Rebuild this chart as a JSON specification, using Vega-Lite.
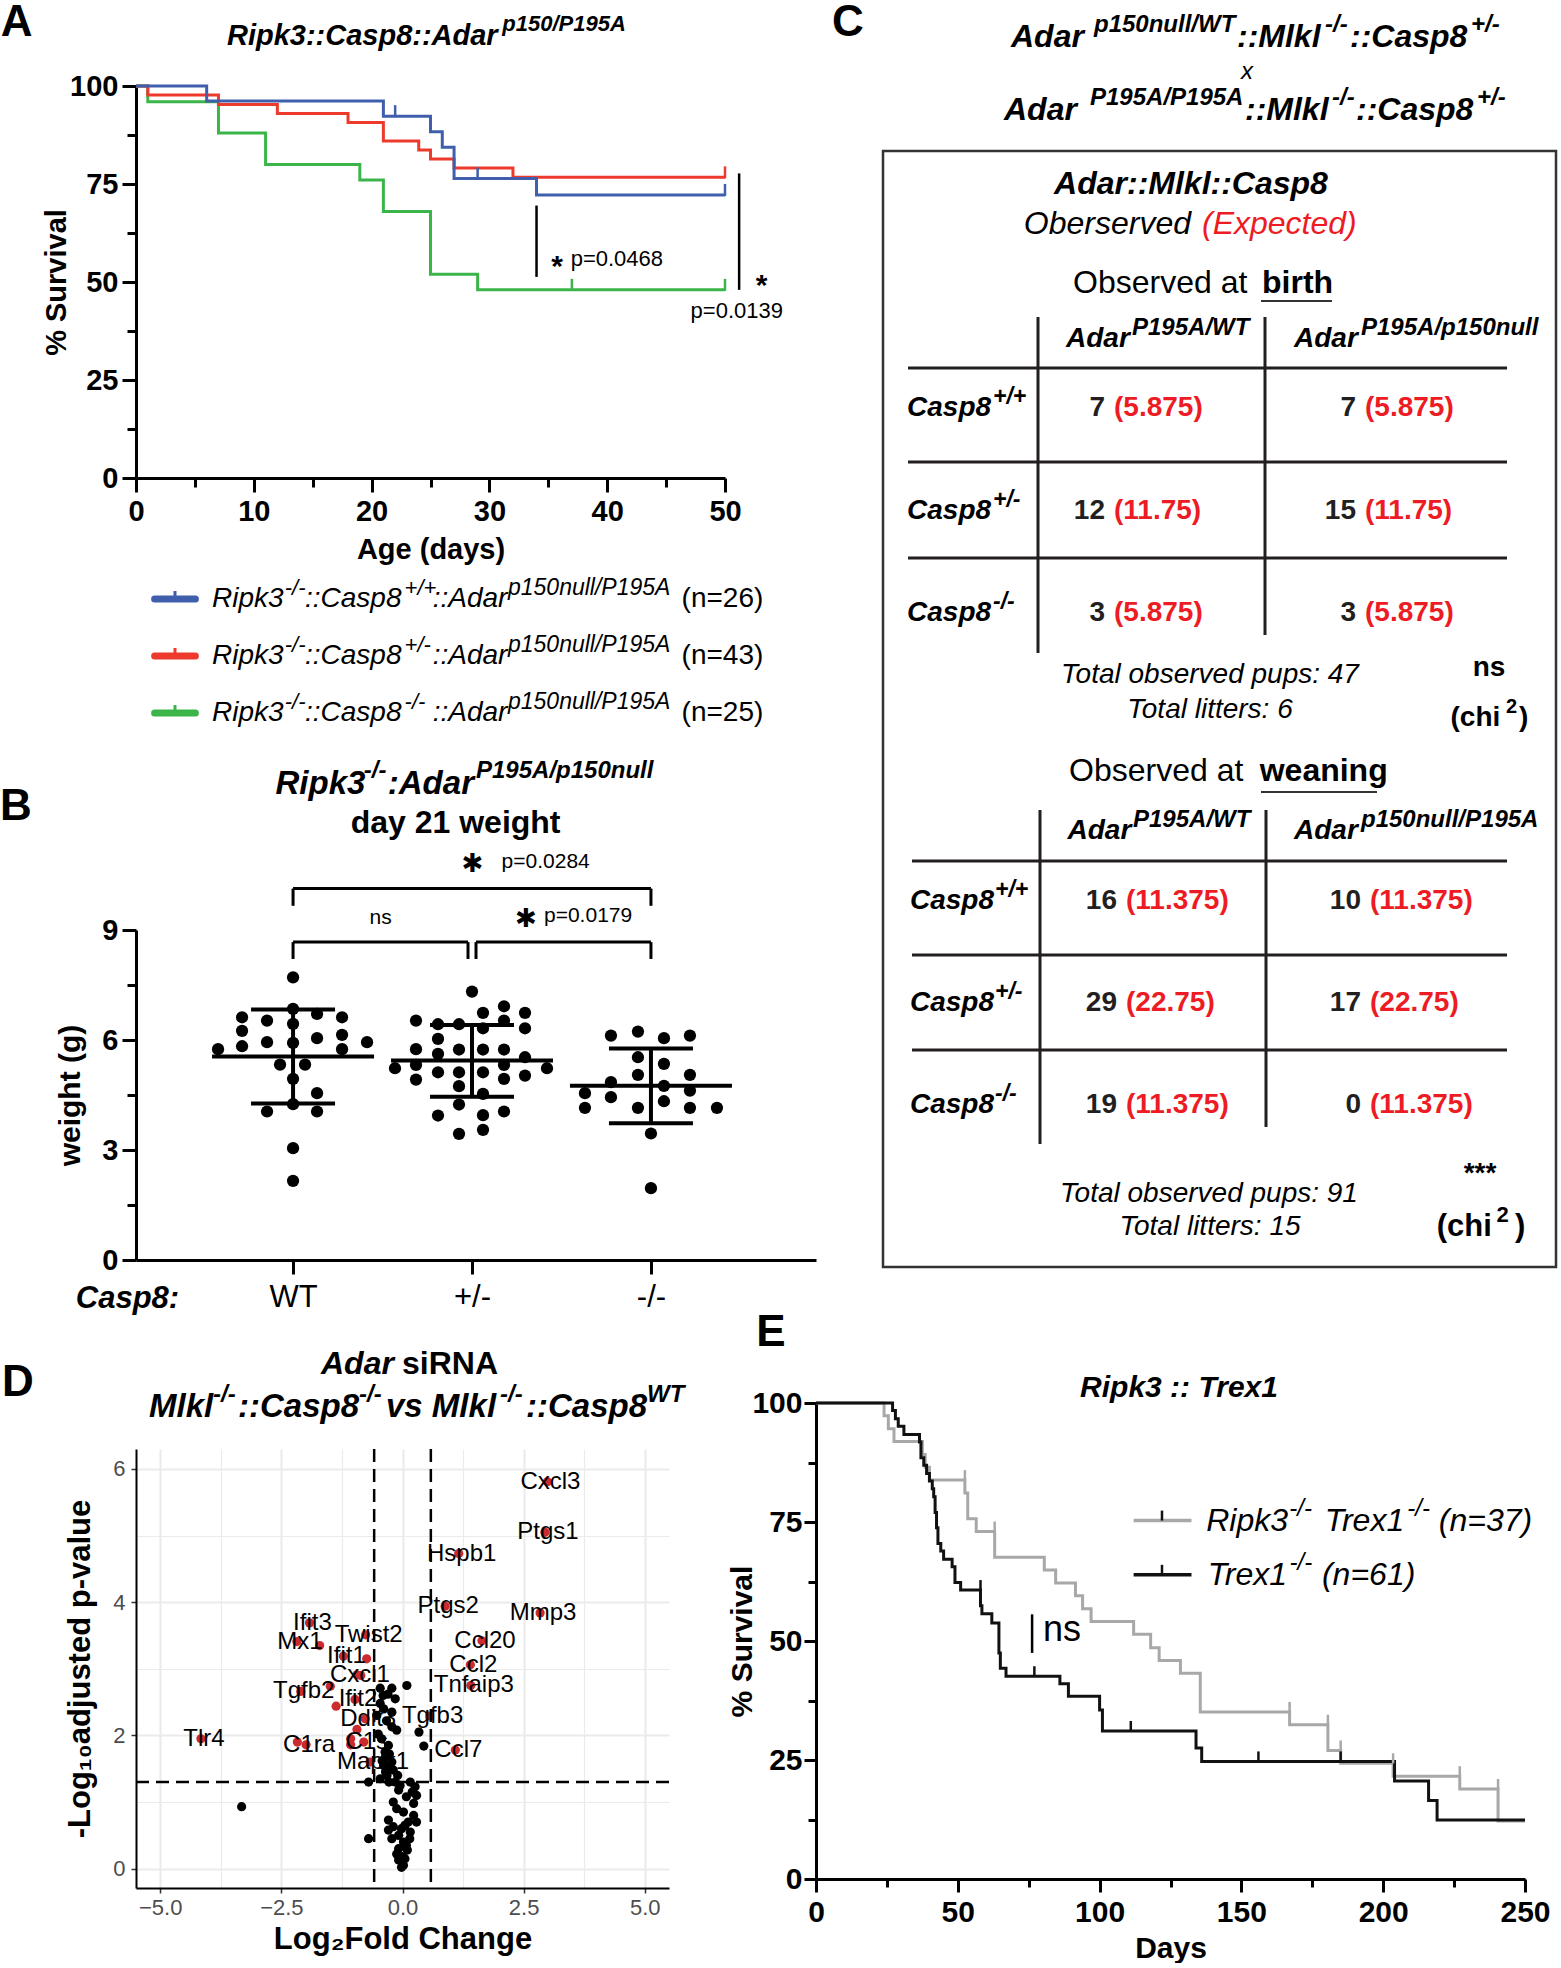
{
"$schema":"https://vega.github.io/schema/vega-lite/v6.json",
"padding":0,
"spacing":-3,
"resolve":{"scale":{"color":"independent"}},
"config":{
 "font":"Liberation Sans",
 "view":{"stroke":null},
 "axis":{"grid":false,"domainColor":"#000","tickColor":"#000","labelColor":"#000","titleColor":"#000","labelFont":"Liberation Sans","titleFont":"Liberation Sans","labelFlush":false,"labelOverlap":false},
 "text":{"font":"Liberation Sans","color":"#000"},
 "locale":{"number":{"decimal":".","thousands":",","grouping":[3],"currency":["(",")"]}}
},
"datasets":{
 "volcano":[
  {"lfc":2.99,"p":5.81,"gene":"Cxcl3","sig":"yes"},{"lfc":2.94,"p":5.05,"gene":"Ptgs1","sig":"yes"},{"lfc":1.16,"p":4.73,"gene":"Hspb1","sig":"yes"},{"lfc":0.88,"p":3.94,"gene":"Ptgs2","sig":"yes"},{"lfc":2.84,"p":3.84,"gene":"Mmp3","sig":"yes"},{"lfc":1.64,"p":3.42,"gene":"Ccl20","sig":"yes"},{"lfc":1.40,"p":3.06,"gene":"Ccl2","sig":"yes"},{"lfc":1.41,"p":2.75,"gene":"Tnfaip3","sig":"yes"},{"lfc":0.56,"p":2.29,"gene":"Tgfb3","sig":"yes"},{"lfc":1.09,"p":1.78,"gene":"Ccl7","sig":"yes"},
  {"lfc":-1.92,"p":3.69,"gene":"Ifit3","sig":"yes"},{"lfc":-2.18,"p":3.41,"gene":"Mx1","sig":"yes"},{"lfc":-0.76,"p":3.51,"gene":"Twist2","sig":"yes"},{"lfc":-1.22,"p":3.19,"gene":"Ifit1","sig":"yes"},{"lfc":-0.94,"p":2.91,"gene":"Cxcl1","sig":"yes"},{"lfc":-2.10,"p":2.66,"gene":"Tgfb2","sig":"yes"},{"lfc":-0.98,"p":2.54,"gene":"Ifit2","sig":"yes"},{"lfc":-0.77,"p":2.25,"gene":"Ddit3","sig":"yes"},{"lfc":-4.16,"p":1.95,"gene":"Tlr4","sig":"yes"},{"lfc":-1.99,"p":1.86,"gene":"C1ra","sig":"yes"},{"lfc":-0.80,"p":1.90,"gene":"C1s","sig":"yes"},{"lfc":-0.67,"p":1.60,"gene":"Mapk1","sig":"yes"},
  {"lfc":-1.71,"p":3.35,"gene":"","sig":"yes"},{"lfc":-0.74,"p":3.15,"gene":"","sig":"yes"},{"lfc":-0.86,"p":2.90,"gene":"","sig":"yes"},{"lfc":-1.49,"p":2.74,"gene":"","sig":"yes"},{"lfc":-1.37,"p":2.44,"gene":"","sig":"yes"},{"lfc":-0.94,"p":2.09,"gene":"","sig":"yes"},{"lfc":-1.07,"p":1.95,"gene":"","sig":"yes"},{"lfc":-2.17,"p":1.90,"gene":"","sig":"yes"},{"lfc":-1.07,"p":1.86,"gene":"","sig":"yes"},
  {"lfc":0.09,"p":2.75,"gene":"","sig":"no"},{"lfc":-0.46,"p":2.71,"gene":"","sig":"no"},{"lfc":-0.22,"p":2.71,"gene":"","sig":"no"},{"lfc":-0.15,"p":2.55,"gene":"","sig":"no"},{"lfc":-0.46,"p":2.48,"gene":"","sig":"no"},{"lfc":-0.39,"p":2.40,"gene":"","sig":"no"},{"lfc":-0.22,"p":2.35,"gene":"","sig":"no"},{"lfc":-0.53,"p":2.30,"gene":"","sig":"no"},{"lfc":-0.22,"p":2.13,"gene":"","sig":"no"},{"lfc":-0.12,"p":2.08,"gene":"","sig":"no"},{"lfc":0.34,"p":2.05,"gene":"","sig":"no"},{"lfc":-0.43,"p":1.95,"gene":"","sig":"no"},{"lfc":-0.29,"p":1.85,"gene":"","sig":"no"},{"lfc":0.44,"p":1.84,"gene":"","sig":"no"},{"lfc":-0.36,"p":1.75,"gene":"","sig":"no"},{"lfc":-0.22,"p":1.60,"gene":"","sig":"no"},{"lfc":-0.39,"p":1.55,"gene":"","sig":"no"},{"lfc":-0.19,"p":1.48,"gene":"","sig":"no"},{"lfc":-0.32,"p":1.40,"gene":"","sig":"no"},{"lfc":-0.46,"p":1.35,"gene":"","sig":"no"},{"lfc":-0.70,"p":1.30,"gene":"","sig":"no"},{"lfc":-0.15,"p":1.30,"gene":"","sig":"no"},{"lfc":0.16,"p":1.30,"gene":"","sig":"no"},{"lfc":0.26,"p":1.23,"gene":"","sig":"no"},{"lfc":-0.08,"p":1.18,"gene":"","sig":"no"},{"lfc":0.29,"p":1.10,"gene":"","sig":"no"},{"lfc":-0.19,"p":1.00,"gene":"","sig":"no"},{"lfc":0.23,"p":0.98,"gene":"","sig":"no"},{"lfc":0.02,"p":0.85,"gene":"","sig":"no"},{"lfc":0.23,"p":0.80,"gene":"","sig":"no"},{"lfc":-0.29,"p":0.73,"gene":"","sig":"no"},{"lfc":-0.19,"p":0.63,"gene":"","sig":"no"},{"lfc":0.05,"p":0.65,"gene":"","sig":"no"},{"lfc":0.29,"p":0.70,"gene":"","sig":"no"},{"lfc":0.16,"p":0.55,"gene":"","sig":"no"},{"lfc":-0.70,"p":0.45,"gene":"","sig":"no"},{"lfc":-0.08,"p":0.50,"gene":"","sig":"no"},{"lfc":-0.22,"p":0.45,"gene":"","sig":"no"},{"lfc":0.02,"p":0.40,"gene":"","sig":"no"},{"lfc":-0.08,"p":0.30,"gene":"","sig":"no"},{"lfc":0.10,"p":0.28,"gene":"","sig":"no"},{"lfc":-0.01,"p":0.18,"gene":"","sig":"no"},{"lfc":0.02,"p":0.05,"gene":"","sig":"no"},{"lfc":-0.08,"p":0.13,"gene":"","sig":"no"},{"lfc":-0.29,"p":0.58,"gene":"","sig":"no"},{"lfc":0.15,"p":0.45,"gene":"","sig":"no"},{"lfc":-3.32,"p":0.93,"gene":"","sig":"no"},{"lfc":-0.30,"p":2.62,"gene":"","sig":"no"},{"lfc":-0.40,"p":2.60,"gene":"","sig":"no"},{"lfc":-0.35,"p":1.68,"gene":"","sig":"no"},{"lfc":-0.27,"p":1.72,"gene":"","sig":"no"},{"lfc":-0.42,"p":1.62,"gene":"","sig":"no"},{"lfc":-0.25,"p":1.52,"gene":"","sig":"no"},{"lfc":-0.50,"p":2.02,"gene":"","sig":"no"},{"lfc":-0.33,"p":2.22,"gene":"","sig":"no"},{"lfc":-0.10,"p":1.40,"gene":"","sig":"no"},{"lfc":-0.05,"p":1.25,"gene":"","sig":"no"},{"lfc":0.08,"p":1.08,"gene":"","sig":"no"},{"lfc":0.20,"p":1.15,"gene":"","sig":"no"},{"lfc":-0.12,"p":0.90,"gene":"","sig":"no"},{"lfc":0.12,"p":0.70,"gene":"","sig":"no"},{"lfc":-0.02,"p":0.60,"gene":"","sig":"no"},{"lfc":0.08,"p":0.35,"gene":"","sig":"no"},{"lfc":-0.12,"p":0.22,"gene":"","sig":"no"},{"lfc":0.05,"p":0.15,"gene":"","sig":"no"},{"lfc":-0.02,"p":0.02,"gene":"","sig":"no"},{"lfc":-0.35,"p":1.45,"gene":"","sig":"no"},{"lfc":-0.28,"p":1.30,"gene":"","sig":"no"}
 ]
},
"vconcat":[
{"hconcat":[
 {"vconcat":[
  {"width":589,"height":392,
   "layer":[
    {"data":{"values":[
      {"g":"ko","t":0,"s":100},{"g":"ko","t":1,"s":96},{"g":"ko","t":7,"s":88},{"g":"ko","t":11,"s":80},{"g":"ko","t":19,"s":76},{"g":"ko","t":21,"s":68},{"g":"ko","t":25,"s":52},{"g":"ko","t":29,"s":48},{"g":"ko","t":50,"s":48},
      {"g":"het","t":0,"s":100},{"g":"het","t":1,"s":97.7},{"g":"het","t":7,"s":95.3},{"g":"het","t":12,"s":93.0},{"g":"het","t":18,"s":90.7},{"g":"het","t":21,"s":86.0},{"g":"het","t":24,"s":83.7},{"g":"het","t":25,"s":81.4},{"g":"het","t":27,"s":79.1},{"g":"het","t":32,"s":76.7},{"g":"het","t":50,"s":76.7},
      {"g":"wt","t":0,"s":100},{"g":"wt","t":6,"s":96.2},{"g":"wt","t":21,"s":92.3},{"g":"wt","t":25,"s":88.3},{"g":"wt","t":26,"s":84.4},{"g":"wt","t":27,"s":76.4},{"g":"wt","t":34,"s":72.2},{"g":"wt","t":50,"s":72.2}]},
     "mark":{"type":"line","interpolate":"step-after","strokeWidth":3},
     "encoding":{
      "x":{"field":"t","type":"quantitative","scale":{"domain":[0,50],"nice":false,"zero":false},"axis":{"values":[0,5,10,15,20,25,30,35,40,45,50],"labelExpr":"datum.value % 10 === 0 ? datum.label : ''","tickSize":{"condition":{"test":"datum.value % 10 !== 0","value":9},"value":14},"tickWidth":3,"domainWidth":3,"labelFontSize":29,"labelFontWeight":"bold","labelPadding":5,"title":"Age (days)","titleFontSize":29,"titleFontWeight":"bold","titlePadding":9}},
      "y":{"field":"s","type":"quantitative","scale":{"domain":[0,100],"nice":false,"zero":false},"axis":{"values":[0,12.5,25,37.5,50,62.5,75,87.5,100],"labelExpr":"datum.value % 25 === 0 ? datum.label : ''","tickSize":{"condition":{"test":"datum.value % 25 !== 0","value":9},"value":14},"tickWidth":3,"domainWidth":3,"labelFontSize":29,"labelFontWeight":"bold","labelPadding":4,"title":"% Survival","titleFontSize":29,"titleFontWeight":"bold","titlePadding":-2}},
      "color":{"field":"g","type":"nominal","scale":{"domain":["ko","het","wt"],"range":["#3BB54A","#EE3A2C","#3F5FAD"]},"legend":null}}},
    {"data":{"values":[{"g":"wt","t":22,"s":92.3},{"g":"wt","t":29,"s":76.4},{"g":"wt","t":50,"s":72.2},{"g":"het","t":50,"s":76.7},{"g":"ko","t":37,"s":48},{"g":"ko","t":50,"s":48}]},
     "mark":{"type":"tick","orient":"vertical","size":12,"thickness":2.5,"yOffset":-5,"opacity":1},
     "encoding":{"x":{"field":"t","type":"quantitative"},"y":{"field":"s","type":"quantitative"},"color":{"field":"g","type":"nominal","legend":null}}},
    {"data":{"values":[{}]},"mark":{"type":"rule","strokeWidth":2.5,"color":"#000"},"encoding":{"x":{"datum":34},"y":{"datum":51.3},"y2":{"datum":69.5}}},
    {"data":{"values":[{}]},"mark":{"type":"rule","strokeWidth":2.5,"color":"#000"},"encoding":{"x":{"datum":51.2},"y":{"datum":48},"y2":{"datum":77.7}}},
    {"data":{"values":[{"t":"*"}]},"mark":{"type":"text","align":"center","baseline":"middle","fontSize":30,"fontWeight":"bold"},"encoding":{"x":{"datum":35.75},"y":{"datum":53.9},"text":{"field":"t"}}},
    {"data":{"values":[{"t":"p=0.0468"}]},"mark":{"type":"text","align":"left","baseline":"middle","fontSize":22},"encoding":{"x":{"datum":36.9},"y":{"datum":55.9},"text":{"field":"t"}}},
    {"data":{"values":[{"t":"*"}]},"mark":{"type":"text","align":"center","baseline":"middle","fontSize":30,"fontWeight":"bold"},"encoding":{"x":{"datum":53.1},"y":{"datum":49.1},"text":{"field":"t"}}},
    {"data":{"values":[{"t":"p=0.0139"}]},"mark":{"type":"text","align":"center","baseline":"middle","fontSize":22},"encoding":{"x":{"datum":51},"y":{"datum":42.6},"text":{"field":"t"}}},
    {"data":{"values":[{"t":"A"}]},"mark":{"type":"text","align":"center","baseline":"middle","fontSize":44,"fontWeight":"bold"},"encoding":{"x":{"datum":-10.14},"y":{"datum":116.1},"text":{"field":"t"}}},
    {"data":{"values":[{"t":"Ripk3::Casp8::Adar"}]},"mark":{"type":"text","align":"left","baseline":"middle","fontSize":29,"fontWeight":"bold","fontStyle":"italic"},"encoding":{"x":{"datum":7.72},"y":{"datum":112.8},"text":{"field":"t"}}},
    {"data":{"values":[{"t":"p150/P195A"}]},"mark":{"type":"text","align":"left","baseline":"middle","fontSize":22,"fontWeight":"bold","fontStyle":"italic","dy":-12},"encoding":{"x":{"datum":31.1},"y":{"datum":112.8},"text":{"field":"t"}}}
   ]},
  {"width":589,"height":195,
   "data":{"values":[{"g":"wt","sup1":"+/+","n":"(n=26)"},{"g":"het","sup1":"+/-","n":"(n=43)"},{"g":"ko","sup1":"-/-","n":"(n=25)"}]},
   "encoding":{"y":{"field":"g","type":"nominal","scale":{"type":"point","domain":["wt","het","ko"],"padding":0.71,"align":0.432},"axis":null}},
   "layer":[
    {"mark":{"type":"rule","strokeWidth":7,"strokeCap":"round"},"encoding":{"x":{"datum":1.86,"scale":{"domain":[0,58.9],"nice":false,"zero":false},"axis":null},"x2":{"datum":5.94},"color":{"field":"g","type":"nominal","scale":{"domain":["ko","het","wt"],"range":["#3BB54A","#EE3A2C","#3F5FAD"]},"legend":null}}},
    {"mark":{"type":"tick","orient":"vertical","size":6,"thickness":3,"yOffset":-5,"opacity":1},"encoding":{"x":{"datum":3.9,"axis":null},"color":{"field":"g","type":"nominal","legend":null}}},
    {"mark":{"type":"text","align":"left","baseline":"middle","fontSize":28,"fontStyle":"italic"},"encoding":{"x":{"datum":7.6,"axis":null},"text":{"value":"Ripk3"}}},
    {"mark":{"type":"text","align":"left","baseline":"middle","fontSize":22,"fontStyle":"italic","dy":-11},"encoding":{"x":{"datum":14.87,"axis":null},"text":{"value":"-/-"}}},
    {"mark":{"type":"text","align":"left","baseline":"middle","fontSize":28,"fontStyle":"italic"},"encoding":{"x":{"datum":16.9,"axis":null},"text":{"value":"::Casp8"}}},
    {"mark":{"type":"text","align":"left","baseline":"middle","fontSize":22,"fontStyle":"italic","dy":-11},"encoding":{"x":{"datum":26.86,"axis":null},"text":{"field":"sup1"}}},
    {"mark":{"type":"text","align":"left","baseline":"middle","fontSize":28,"fontStyle":"italic"},"encoding":{"x":{"datum":29.67,"axis":null},"text":{"value":"::Adar"}}},
    {"mark":{"type":"text","align":"left","baseline":"middle","fontSize":23,"fontStyle":"italic","dy":-11},"encoding":{"x":{"datum":37.2,"axis":null},"text":{"value":"p150null/P195A"}}},
    {"mark":{"type":"text","align":"left","baseline":"middle","fontSize":28},"encoding":{"x":{"datum":54.56,"axis":null},"text":{"field":"n"}}}
   ]},
  {"width":680,"height":330,
   "layer":[
    {"layer":[
     {"data":{"values":[
       {"casp8":"WT","w":7.71,"off":0},{"casp8":"WT","w":6.85,"off":0},{"casp8":"WT","w":6.62,"off":-51},{"casp8":"WT","w":6.53,"off":-26},{"casp8":"WT","w":6.71,"off":24},{"casp8":"WT","w":6.62,"off":49},{"casp8":"WT","w":6.44,"off":0},{"casp8":"WT","w":6.25,"off":-51},{"casp8":"WT","w":6.14,"off":49},{"casp8":"WT","w":6.05,"off":24},{"casp8":"WT","w":5.94,"off":-26},{"casp8":"WT","w":5.92,"off":0},{"casp8":"WT","w":5.83,"off":-51},{"casp8":"WT","w":5.94,"off":74},{"casp8":"WT","w":5.75,"off":49},{"casp8":"WT","w":5.75,"off":-75},{"casp8":"WT","w":5.33,"off":-13},{"casp8":"WT","w":5.33,"off":12},{"casp8":"WT","w":4.94,"off":0},{"casp8":"WT","w":4.55,"off":24},{"casp8":"WT","w":4.25,"off":0},{"casp8":"WT","w":4.05,"off":-26},{"casp8":"WT","w":4.05,"off":24},{"casp8":"WT","w":3.05,"off":0},{"casp8":"WT","w":2.16,"off":0},
       {"casp8":"+/-","w":7.32,"off":0},{"casp8":"+/-","w":6.74,"off":11},{"casp8":"+/-","w":6.92,"off":32},{"casp8":"+/-","w":6.74,"off":53},{"casp8":"+/-","w":6.53,"off":-56},{"casp8":"+/-","w":6.43,"off":-34},{"casp8":"+/-","w":6.43,"off":-13},{"casp8":"+/-","w":6.32,"off":11},{"casp8":"+/-","w":6.53,"off":32},{"casp8":"+/-","w":6.32,"off":53},{"casp8":"+/-","w":6.03,"off":-34},{"casp8":"+/-","w":5.75,"off":-56},{"casp8":"+/-","w":5.62,"off":-34},{"casp8":"+/-","w":5.74,"off":-13},{"casp8":"+/-","w":5.74,"off":11},{"casp8":"+/-","w":5.74,"off":32},{"casp8":"+/-","w":5.53,"off":53},{"casp8":"+/-","w":5.23,"off":-77},{"casp8":"+/-","w":5.32,"off":-56},{"casp8":"+/-","w":5.32,"off":32},{"casp8":"+/-","w":5.23,"off":75},{"casp8":"+/-","w":5.12,"off":-34},{"casp8":"+/-","w":5.12,"off":-13},{"casp8":"+/-","w":5.12,"off":11},{"casp8":"+/-","w":4.92,"off":-56},{"casp8":"+/-","w":4.94,"off":32},{"casp8":"+/-","w":5.03,"off":53},{"casp8":"+/-","w":4.74,"off":-13},{"casp8":"+/-","w":4.53,"off":11},{"casp8":"+/-","w":4.24,"off":-13},{"casp8":"+/-","w":3.94,"off":-34},{"casp8":"+/-","w":3.95,"off":11},{"casp8":"+/-","w":4.05,"off":32},{"casp8":"+/-","w":3.44,"off":-13},{"casp8":"+/-","w":3.55,"off":11},
       {"casp8":"-/-","w":6.12,"off":-40},{"casp8":"-/-","w":6.23,"off":-13},{"casp8":"-/-","w":6.05,"off":13},{"casp8":"-/-","w":6.12,"off":39},{"casp8":"-/-","w":5.53,"off":-13},{"casp8":"-/-","w":5.35,"off":13},{"casp8":"-/-","w":5.05,"off":-13},{"casp8":"-/-","w":5.05,"off":39},{"casp8":"-/-","w":4.85,"off":-40},{"casp8":"-/-","w":4.75,"off":13},{"casp8":"-/-","w":4.62,"off":39},{"casp8":"-/-","w":4.55,"off":-66},{"casp8":"-/-","w":4.44,"off":-40},{"casp8":"-/-","w":4.33,"off":13},{"casp8":"-/-","w":4.15,"off":-66},{"casp8":"-/-","w":4.15,"off":-13},{"casp8":"-/-","w":4.15,"off":39},{"casp8":"-/-","w":4.15,"off":66},{"casp8":"-/-","w":3.45,"off":0},{"casp8":"-/-","w":1.96,"off":0}]},
      "mark":{"type":"circle","size":150,"opacity":1,"color":"#000"},
      "encoding":{
       "x":{"field":"casp8","type":"nominal","scale":{"type":"point","domain":["WT","+/-","-/-"],"padding":0.9,"align":0.4876},"axis":{"labelAngle":0,"labelFontSize":31,"labelPadding":8,"tickSize":14,"tickWidth":3,"domainWidth":3,"title":"Casp8:","titleFontSize":31,"titleFontWeight":"bold","titleFontStyle":"italic","titleX":-9,"titleY":38,"titleAlign":"center","titleBaseline":"middle"}},
       "xOffset":{"field":"off","type":"quantitative","scale":{"domain":[-100,100],"range":[-100,100]}},
       "y":{"field":"w","type":"quantitative","scale":{"domain":[0,9],"nice":false,"zero":false},"axis":{"values":[0,1.5,3,4.5,6,7.5,9],"labelExpr":"datum.value % 3 === 0 ? datum.label : ''","tickSize":{"condition":{"test":"datum.value % 3 !== 0","value":9},"value":14},"tickWidth":3,"domainWidth":3,"labelFontSize":29,"labelFontWeight":"bold","labelPadding":4,"title":"weight (g)","titleFontSize":30,"titleFontWeight":"bold","titlePadding":16}}}},
     {"data":{"values":[{"casp8":"WT","mean":5.55,"hi":6.83,"lo":4.27},{"casp8":"+/-","mean":5.44,"hi":6.41,"lo":4.45},{"casp8":"-/-","mean":4.75,"hi":5.77,"lo":3.73}]},
      "layer":[
       {"mark":{"type":"tick","size":162,"thickness":4,"color":"#000","opacity":1},"encoding":{"x":{"field":"casp8","type":"nominal"},"y":{"field":"mean","type":"quantitative"}}},
       {"mark":{"type":"tick","size":84,"thickness":4,"color":"#000","opacity":1},"encoding":{"x":{"field":"casp8","type":"nominal"},"y":{"field":"hi","type":"quantitative"}}},
       {"mark":{"type":"tick","size":84,"thickness":4,"color":"#000","opacity":1},"encoding":{"x":{"field":"casp8","type":"nominal"},"y":{"field":"lo","type":"quantitative"}}},
       {"mark":{"type":"rule","strokeWidth":4,"color":"#000"},"encoding":{"x":{"field":"casp8","type":"nominal"},"y":{"field":"lo","type":"quantitative"},"y2":{"field":"hi"}}}
      ]},
     {"data":{"values":[{}]},"mark":{"type":"rule","strokeWidth":3,"color":"#000"},"encoding":{"x":{"datum":"WT"},"x2":{"datum":"-/-"},"y":{"datum":10.13}}},
     {"data":{"values":[{}]},"mark":{"type":"rule","strokeWidth":3,"color":"#000"},"encoding":{"x":{"datum":"WT"},"y":{"datum":9.66},"y2":{"datum":10.13}}},
     {"data":{"values":[{}]},"mark":{"type":"rule","strokeWidth":3,"color":"#000"},"encoding":{"x":{"datum":"-/-"},"y":{"datum":9.66},"y2":{"datum":10.13}}},
     {"data":{"values":[{}]},"mark":{"type":"rule","strokeWidth":3,"color":"#000","x2Offset":-4},"encoding":{"x":{"datum":"WT"},"x2":{"datum":"+/-"},"y":{"datum":8.67}}},
     {"data":{"values":[{}]},"mark":{"type":"rule","strokeWidth":3,"color":"#000"},"encoding":{"x":{"datum":"WT"},"y":{"datum":8.21},"y2":{"datum":8.67}}},
     {"data":{"values":[{}]},"mark":{"type":"rule","strokeWidth":3,"color":"#000","xOffset":-4},"encoding":{"x":{"datum":"+/-"},"y":{"datum":8.21},"y2":{"datum":8.67}}},
     {"data":{"values":[{}]},"mark":{"type":"rule","strokeWidth":3,"color":"#000","xOffset":4},"encoding":{"x":{"datum":"+/-"},"x2":{"datum":"-/-"},"y":{"datum":8.67}}},
     {"data":{"values":[{}]},"mark":{"type":"rule","strokeWidth":3,"color":"#000","xOffset":4},"encoding":{"x":{"datum":"+/-"},"y":{"datum":8.21},"y2":{"datum":8.67}}},
     {"data":{"values":[{}]},"mark":{"type":"rule","strokeWidth":3,"color":"#000"},"encoding":{"x":{"datum":"-/-"},"y":{"datum":8.21},"y2":{"datum":8.67}}}
    ]},
    {"layer":[
     {"data":{"values":[{"t":"B"}]},"mark":{"type":"text","align":"center","baseline":"middle","fontSize":44,"fontWeight":"bold"},"encoding":{"x":{"datum":-12,"scale":{"domain":[0,68],"nice":false,"zero":false},"axis":null},"y":{"datum":12.35},"text":{"field":"t"}}},
     {"data":{"values":[{"t":"Ripk3"}]},"mark":{"type":"text","align":"left","baseline":"middle","fontSize":33,"fontWeight":"bold","fontStyle":"italic"},"encoding":{"x":{"datum":13.95,"axis":null},"y":{"datum":12.97},"text":{"field":"t"}}},
     {"data":{"values":[{"t":"-/-"}]},"mark":{"type":"text","align":"left","baseline":"middle","fontSize":24,"fontWeight":"bold","fontStyle":"italic","dy":-13},"encoding":{"x":{"datum":22.78,"axis":null},"y":{"datum":12.97},"text":{"field":"t"}}},
     {"data":{"values":[{"t":":Adar"}]},"mark":{"type":"text","align":"left","baseline":"middle","fontSize":33,"fontWeight":"bold","fontStyle":"italic"},"encoding":{"x":{"datum":25.18,"axis":null},"y":{"datum":12.97},"text":{"field":"t"}}},
     {"data":{"values":[{"t":"P195A/p150null"}]},"mark":{"type":"text","align":"left","baseline":"middle","fontSize":24,"fontWeight":"bold","fontStyle":"italic","dy":-13},"encoding":{"x":{"datum":34.0,"axis":null},"y":{"datum":12.97},"text":{"field":"t"}}},
     {"data":{"values":[{"t":"day 21 weight"}]},"mark":{"type":"text","align":"center","baseline":"middle","fontSize":32,"fontWeight":"bold"},"encoding":{"x":{"datum":31.96,"axis":null},"y":{"datum":11.92},"text":{"field":"t"}}},
     {"data":{"values":[{"t":"✱"}]},"mark":{"type":"text","align":"center","baseline":"middle","fontSize":26,"font":"DejaVu Sans"},"encoding":{"x":{"datum":33.65,"axis":null},"y":{"datum":10.79},"text":{"field":"t"}}},
     {"data":{"values":[{"t":"p=0.0284"}]},"mark":{"type":"text","align":"left","baseline":"middle","fontSize":21},"encoding":{"x":{"datum":36.56,"axis":null},"y":{"datum":10.85},"text":{"field":"t"}}},
     {"data":{"values":[{"t":"ns"}]},"mark":{"type":"text","align":"center","baseline":"middle","fontSize":21},"encoding":{"x":{"datum":24.46,"axis":null},"y":{"datum":9.33},"text":{"field":"t"}}},
     {"data":{"values":[{"t":"✱"}]},"mark":{"type":"text","align":"center","baseline":"middle","fontSize":26,"font":"DejaVu Sans"},"encoding":{"x":{"datum":39.0,"axis":null},"y":{"datum":9.31},"text":{"field":"t"}}},
     {"data":{"values":[{"t":"p=0.0179"}]},"mark":{"type":"text","align":"left","baseline":"middle","fontSize":21},"encoding":{"x":{"datum":40.8,"axis":null},"y":{"datum":9.37},"text":{"field":"t"}}}
    ]}
   ],
   "resolve":{"scale":{"x":"independent"}}}
 ],"spacing":0,"resolve":{"scale":{"color":"independent"}}},
 {"width":728,"height":1185,
  "layer":[
   {"layer":[
    {"data":{"values":[{}]},"mark":{"type":"rect","filled":false,"color":"#333333","strokeWidth":2.5},"encoding":{"x":{"datum":5.4,"scale":{"domain":[0,72.8],"nice":false,"zero":false},"axis":null},"x2":{"datum":72.7},"y":{"datum":6.5,"scale":{"domain":[0,118.5],"reverse":true,"nice":false,"zero":false},"axis":null},"y2":{"datum":118.1}}},
    {"data":{"values":[{"t":"C"}]},"mark":{"type":"text","align":"center","baseline":"middle","fontSize":44,"fontWeight":"bold"},"encoding":{"x":{"datum":1.9,"axis":null},"y":{"datum":-6.3,"axis":null},"text":{"field":"t"}}},
    {"data":{"values":[{"t":"Adar"}]},"mark":{"type":"text","align":"left","baseline":"middle","fontSize":32,"fontWeight":"bold","fontStyle":"italic"},"encoding":{"x":{"datum":18.2,"axis":null},"y":{"datum":-4.9,"axis":null},"text":{"field":"t"}}},
    {"data":{"values":[{"t":"p150null/WT"}]},"mark":{"type":"text","align":"left","baseline":"middle","fontSize":24,"fontWeight":"bold","fontStyle":"italic","dy":-12},"encoding":{"x":{"datum":26.5,"axis":null},"y":{"datum":-4.9,"axis":null},"text":{"field":"t"}}},
    {"data":{"values":[{"t":"::Mlkl"}]},"mark":{"type":"text","align":"left","baseline":"middle","fontSize":32,"fontWeight":"bold","fontStyle":"italic"},"encoding":{"x":{"datum":40.8,"axis":null},"y":{"datum":-4.9,"axis":null},"text":{"field":"t"}}},
    {"data":{"values":[{"t":"-/-"}]},"mark":{"type":"text","align":"left","baseline":"middle","fontSize":24,"fontWeight":"bold","fontStyle":"italic","dy":-12},"encoding":{"x":{"datum":49.6,"axis":null},"y":{"datum":-4.9,"axis":null},"text":{"field":"t"}}},
    {"data":{"values":[{"t":"::Casp8"}]},"mark":{"type":"text","align":"left","baseline":"middle","fontSize":32,"fontWeight":"bold","fontStyle":"italic"},"encoding":{"x":{"datum":52.1,"axis":null},"y":{"datum":-4.9,"axis":null},"text":{"field":"t"}}},
    {"data":{"values":[{"t":"+/-"}]},"mark":{"type":"text","align":"left","baseline":"middle","fontSize":24,"fontWeight":"bold","fontStyle":"italic","dy":-12},"encoding":{"x":{"datum":64.2,"axis":null},"y":{"datum":-4.9,"axis":null},"text":{"field":"t"}}},
    {"data":{"values":[{"t":"x"}]},"mark":{"type":"text","align":"center","baseline":"middle","fontSize":24,"fontStyle":"italic"},"encoding":{"x":{"datum":41.8,"axis":null},"y":{"datum":-1.4,"axis":null},"text":{"field":"t"}}},
    {"data":{"values":[{"t":"Adar"}]},"mark":{"type":"text","align":"left","baseline":"middle","fontSize":32,"fontWeight":"bold","fontStyle":"italic"},"encoding":{"x":{"datum":17.5,"axis":null},"y":{"datum":2.4,"axis":null},"text":{"field":"t"}}},
    {"data":{"values":[{"t":"P195A/P195A"}]},"mark":{"type":"text","align":"left","baseline":"middle","fontSize":24,"fontWeight":"bold","fontStyle":"italic","dy":-12},"encoding":{"x":{"datum":26.1,"axis":null},"y":{"datum":2.4,"axis":null},"text":{"field":"t"}}},
    {"data":{"values":[{"t":"::Mlkl"}]},"mark":{"type":"text","align":"left","baseline":"middle","fontSize":32,"fontWeight":"bold","fontStyle":"italic"},"encoding":{"x":{"datum":41.6,"axis":null},"y":{"datum":2.4,"axis":null},"text":{"field":"t"}}},
    {"data":{"values":[{"t":"-/-"}]},"mark":{"type":"text","align":"left","baseline":"middle","fontSize":24,"fontWeight":"bold","fontStyle":"italic","dy":-12},"encoding":{"x":{"datum":50.3,"axis":null},"y":{"datum":2.4,"axis":null},"text":{"field":"t"}}},
    {"data":{"values":[{"t":"::Casp8"}]},"mark":{"type":"text","align":"left","baseline":"middle","fontSize":32,"fontWeight":"bold","fontStyle":"italic"},"encoding":{"x":{"datum":52.7,"axis":null},"y":{"datum":2.4,"axis":null},"text":{"field":"t"}}},
    {"data":{"values":[{"t":"+/-"}]},"mark":{"type":"text","align":"left","baseline":"middle","fontSize":24,"fontWeight":"bold","fontStyle":"italic","dy":-12},"encoding":{"x":{"datum":64.8,"axis":null},"y":{"datum":2.4,"axis":null},"text":{"field":"t"}}},
    {"data":{"values":[{"t":"Adar::Mlkl::Casp8"}]},"mark":{"type":"text","align":"center","baseline":"middle","fontSize":32,"fontWeight":"bold","fontStyle":"italic"},"encoding":{"x":{"datum":36.2,"axis":null},"y":{"datum":9.8,"axis":null},"text":{"field":"t"}}},
    {"data":{"values":[{"t":"Oberserved"}]},"mark":{"type":"text","align":"right","baseline":"middle","fontSize":32,"fontStyle":"italic"},"encoding":{"x":{"datum":36.2,"axis":null},"y":{"datum":13.8,"axis":null},"text":{"field":"t"}}},
    {"data":{"values":[{"t":"(Expected)"}]},"mark":{"type":"text","align":"left","baseline":"middle","fontSize":32,"fontStyle":"italic","color":"#ED1C24"},"encoding":{"x":{"datum":37.3,"axis":null},"y":{"datum":13.8,"axis":null},"text":{"field":"t"}}},
    {"data":{"values":[{"t":"Observed at"}]},"mark":{"type":"text","align":"left","baseline":"middle","fontSize":32},"encoding":{"x":{"datum":24.4,"axis":null},"y":{"datum":19.7,"axis":null},"text":{"field":"t"}}},
    {"data":{"values":[{"t":"birth"}]},"mark":{"type":"text","align":"left","baseline":"middle","fontSize":32,"fontWeight":"bold"},"encoding":{"x":{"datum":43.3,"axis":null},"y":{"datum":19.7,"axis":null},"text":{"field":"t"}}},
    {"data":{"values":[{}]},"mark":{"type":"rule","strokeWidth":2,"color":"#333333"},"encoding":{"x":{"datum":43.2,"axis":null},"x2":{"datum":50.3},"y":{"datum":21.5,"axis":null}}},
    {"data":{"values":[{}]},"mark":{"type":"rule","strokeWidth":3,"color":"#231F20"},"encoding":{"x":{"datum":20.9,"axis":null},"y":{"datum":23.1,"axis":null},"y2":{"datum":56.7}}},
    {"data":{"values":[{}]},"mark":{"type":"rule","strokeWidth":3,"color":"#231F20"},"encoding":{"x":{"datum":43.6,"axis":null},"y":{"datum":23.1,"axis":null},"y2":{"datum":54.9}}},
    {"data":{"values":[{}]},"mark":{"type":"rule","strokeWidth":3,"color":"#231F20"},"encoding":{"x":{"datum":7.9,"axis":null},"x2":{"datum":67.8},"y":{"datum":28.2,"axis":null}}},
    {"data":{"values":[{}]},"mark":{"type":"rule","strokeWidth":3,"color":"#231F20"},"encoding":{"x":{"datum":7.9,"axis":null},"x2":{"datum":67.8},"y":{"datum":37.6,"axis":null}}},
    {"data":{"values":[{}]},"mark":{"type":"rule","strokeWidth":3,"color":"#231F20"},"encoding":{"x":{"datum":7.9,"axis":null},"x2":{"datum":67.8},"y":{"datum":47.2,"axis":null}}},
    {"data":{"values":[{"t":"Adar"}]},"mark":{"type":"text","align":"left","baseline":"middle","fontSize":28,"fontWeight":"bold","fontStyle":"italic"},"encoding":{"x":{"datum":23.7,"axis":null},"y":{"datum":25.3,"axis":null},"text":{"field":"t"}}},
    {"data":{"values":[{"t":"P195A/WT"}]},"mark":{"type":"text","align":"left","baseline":"middle","fontSize":24,"fontWeight":"bold","fontStyle":"italic","dy":-11},"encoding":{"x":{"datum":30.3,"axis":null},"y":{"datum":25.3,"axis":null},"text":{"field":"t"}}},
    {"data":{"values":[{"t":"Adar"}]},"mark":{"type":"text","align":"left","baseline":"middle","fontSize":28,"fontWeight":"bold","fontStyle":"italic"},"encoding":{"x":{"datum":46.5,"axis":null},"y":{"datum":25.3,"axis":null},"text":{"field":"t"}}},
    {"data":{"values":[{"t":"P195A/p150null"}]},"mark":{"type":"text","align":"left","baseline":"middle","fontSize":24,"fontWeight":"bold","fontStyle":"italic","dy":-11},"encoding":{"x":{"datum":53.2,"axis":null},"y":{"datum":25.3,"axis":null},"text":{"field":"t"}}},
    {"data":{"values":[{"t":"Total observed pups: 47"}]},"mark":{"type":"text","align":"center","baseline":"middle","fontSize":28,"fontStyle":"italic"},"encoding":{"x":{"datum":38.1,"axis":null},"y":{"datum":58.9,"axis":null},"text":{"field":"t"}}},
    {"data":{"values":[{"t":"Total litters: 6"}]},"mark":{"type":"text","align":"center","baseline":"middle","fontSize":28,"fontStyle":"italic"},"encoding":{"x":{"datum":38.1,"axis":null},"y":{"datum":62.4,"axis":null},"text":{"field":"t"}}},
    {"data":{"values":[{"t":"ns"}]},"mark":{"type":"text","align":"center","baseline":"middle","fontSize":28,"fontWeight":"bold"},"encoding":{"x":{"datum":66.0,"axis":null},"y":{"datum":58.2,"axis":null},"text":{"field":"t"}}},
    {"data":{"values":[{"t":"(chi"}]},"mark":{"type":"text","align":"left","baseline":"middle","fontSize":28,"fontWeight":"bold"},"encoding":{"x":{"datum":62.15,"axis":null},"y":{"datum":63.2,"axis":null},"text":{"field":"t"}}},
    {"data":{"values":[{"t":"2"}]},"mark":{"type":"text","align":"left","baseline":"middle","fontSize":20,"fontWeight":"bold","dy":-11},"encoding":{"x":{"datum":67.7,"axis":null},"y":{"datum":63.2,"axis":null},"text":{"field":"t"}}},
    {"data":{"values":[{"t":")"}]},"mark":{"type":"text","align":"left","baseline":"middle","fontSize":28,"fontWeight":"bold"},"encoding":{"x":{"datum":69.0,"axis":null},"y":{"datum":63.2,"axis":null},"text":{"field":"t"}}},
    {"data":{"values":[{"t":"Observed at"}]},"mark":{"type":"text","align":"left","baseline":"middle","fontSize":32},"encoding":{"x":{"datum":24.0,"axis":null},"y":{"datum":68.5,"axis":null},"text":{"field":"t"}}},
    {"data":{"values":[{"t":"weaning"}]},"mark":{"type":"text","align":"left","baseline":"middle","fontSize":32,"fontWeight":"bold"},"encoding":{"x":{"datum":43.07,"axis":null},"y":{"datum":68.5,"axis":null},"text":{"field":"t"}}},
    {"data":{"values":[{}]},"mark":{"type":"rule","strokeWidth":2,"color":"#333333"},"encoding":{"x":{"datum":43.2,"axis":null},"x2":{"datum":54.8},"y":{"datum":70.6,"axis":null}}},
    {"data":{"values":[{}]},"mark":{"type":"rule","strokeWidth":3,"color":"#231F20"},"encoding":{"x":{"datum":21.1,"axis":null},"y":{"datum":72.4,"axis":null},"y2":{"datum":105.8}}},
    {"data":{"values":[{}]},"mark":{"type":"rule","strokeWidth":3,"color":"#231F20"},"encoding":{"x":{"datum":43.7,"axis":null},"y":{"datum":72.4,"axis":null},"y2":{"datum":104.1}}},
    {"data":{"values":[{}]},"mark":{"type":"rule","strokeWidth":3,"color":"#231F20"},"encoding":{"x":{"datum":8.3,"axis":null},"x2":{"datum":67.8},"y":{"datum":77.5,"axis":null}}},
    {"data":{"values":[{}]},"mark":{"type":"rule","strokeWidth":3,"color":"#231F20"},"encoding":{"x":{"datum":8.3,"axis":null},"x2":{"datum":67.8},"y":{"datum":86.9,"axis":null}}},
    {"data":{"values":[{}]},"mark":{"type":"rule","strokeWidth":3,"color":"#231F20"},"encoding":{"x":{"datum":8.3,"axis":null},"x2":{"datum":67.8},"y":{"datum":96.4,"axis":null}}},
    {"data":{"values":[{"t":"Adar"}]},"mark":{"type":"text","align":"left","baseline":"middle","fontSize":28,"fontWeight":"bold","fontStyle":"italic"},"encoding":{"x":{"datum":23.85,"axis":null},"y":{"datum":74.5,"axis":null},"text":{"field":"t"}}},
    {"data":{"values":[{"t":"P195A/WT"}]},"mark":{"type":"text","align":"left","baseline":"middle","fontSize":24,"fontWeight":"bold","fontStyle":"italic","dy":-11},"encoding":{"x":{"datum":30.4,"axis":null},"y":{"datum":74.5,"axis":null},"text":{"field":"t"}}},
    {"data":{"values":[{"t":"Adar"}]},"mark":{"type":"text","align":"left","baseline":"middle","fontSize":28,"fontWeight":"bold","fontStyle":"italic"},"encoding":{"x":{"datum":46.5,"axis":null},"y":{"datum":74.5,"axis":null},"text":{"field":"t"}}},
    {"data":{"values":[{"t":"p150null/P195A"}]},"mark":{"type":"text","align":"left","baseline":"middle","fontSize":24,"fontWeight":"bold","fontStyle":"italic","dy":-11},"encoding":{"x":{"datum":53.2,"axis":null},"y":{"datum":74.5,"axis":null},"text":{"field":"t"}}},
    {"data":{"values":[{"t":"***"}]},"mark":{"type":"text","align":"center","baseline":"middle","fontSize":28,"fontWeight":"bold"},"encoding":{"x":{"datum":65.1,"axis":null},"y":{"datum":108.8,"axis":null},"text":{"field":"t"}}},
    {"data":{"values":[{"t":"Total observed pups: 91"}]},"mark":{"type":"text","align":"center","baseline":"middle","fontSize":28,"fontStyle":"italic"},"encoding":{"x":{"datum":38.0,"axis":null},"y":{"datum":110.8,"axis":null},"text":{"field":"t"}}},
    {"data":{"values":[{"t":"Total litters: 15"}]},"mark":{"type":"text","align":"center","baseline":"middle","fontSize":28,"fontStyle":"italic"},"encoding":{"x":{"datum":38.1,"axis":null},"y":{"datum":114.1,"axis":null},"text":{"field":"t"}}},
    {"data":{"values":[{"t":"(chi"}]},"mark":{"type":"text","align":"left","baseline":"middle","fontSize":31,"fontWeight":"bold"},"encoding":{"x":{"datum":60.77,"axis":null},"y":{"datum":114.1,"axis":null},"text":{"field":"t"}}},
    {"data":{"values":[{"t":"2"}]},"mark":{"type":"text","align":"left","baseline":"middle","fontSize":22,"fontWeight":"bold","dy":-12},"encoding":{"x":{"datum":66.75,"axis":null},"y":{"datum":114.1,"axis":null},"text":{"field":"t"}}},
    {"data":{"values":[{"t":")"}]},"mark":{"type":"text","align":"left","baseline":"middle","fontSize":31,"fontWeight":"bold"},"encoding":{"x":{"datum":68.6,"axis":null},"y":{"datum":114.1,"axis":null},"text":{"field":"t"}}}
   ]},
   {"layer":[
     {"data":{"values":[{"casp8":"+/+","wtCasp8Alleles":2,"adar":"P195A/WT","p150nullAlleles":0,"obs":7,"exp":5.875},{"casp8":"+/+","wtCasp8Alleles":2,"adar":"P195A/p150null","p150nullAlleles":1,"obs":7,"exp":5.875},{"casp8":"+/-","wtCasp8Alleles":1,"adar":"P195A/WT","p150nullAlleles":0,"obs":12,"exp":11.75},{"casp8":"+/-","wtCasp8Alleles":1,"adar":"P195A/p150null","p150nullAlleles":1,"obs":15,"exp":11.75},{"casp8":"-/-","wtCasp8Alleles":0,"adar":"P195A/WT","p150nullAlleles":0,"obs":3,"exp":5.875},{"casp8":"-/-","wtCasp8Alleles":0,"adar":"P195A/p150null","p150nullAlleles":1,"obs":3,"exp":5.875}]},
      "encoding":{"x":{"field":"p150nullAlleles","type":"quantitative","scale":{"domain":[-1.0996,1.8008],"nice":false,"zero":false},"axis":null},"y":{"field":"wtCasp8Alleles","type":"quantitative","scale":{"domain":[-6.4195,5.1415],"nice":false,"zero":false},"axis":null}},
      "layer":[
       {"mark":{"type":"text","align":"right","baseline":"middle","fontSize":28,"fontWeight":"bold","color":"#231F20"},"encoding":{"text":{"field":"obs","type":"quantitative"}}},
       {"mark":{"type":"text","align":"left","baseline":"middle","fontSize":28,"fontWeight":"bold","color":"#ED1C24","dx":9},"encoding":{"text":{"field":"exp","type":"quantitative","format":"$.3~f"}}}
      ]},
     {"data":{"values":[{"casp8":"+/+","wtCasp8Alleles":2},{"casp8":"+/-","wtCasp8Alleles":1},{"casp8":"-/-","wtCasp8Alleles":0}]},
      "encoding":{"y":{"field":"wtCasp8Alleles","type":"quantitative","axis":null}},
      "layer":[
       {"mark":{"type":"text","align":"left","baseline":"middle","fontSize":28,"fontWeight":"bold","fontStyle":"italic"},"encoding":{"x":{"datum":-0.7888,"axis":null},"text":{"value":"Casp8"}}},
       {"mark":{"type":"text","align":"left","baseline":"middle","fontSize":23,"fontWeight":"bold","fontStyle":"italic","dy":-11},"encoding":{"x":{"datum":-0.4462,"axis":null},"text":{"field":"casp8"}}}
      ]}
   ]},
   {"layer":[
     {"data":{"values":[{"casp8":"+/+","wtCasp8Alleles":2,"adar":"P195A/WT","p150nullAlleles":0,"obs":16,"exp":11.375},{"casp8":"+/+","wtCasp8Alleles":2,"adar":"p150null/P195A","p150nullAlleles":1,"obs":10,"exp":11.375},{"casp8":"+/-","wtCasp8Alleles":1,"adar":"P195A/WT","p150nullAlleles":0,"obs":29,"exp":22.75},{"casp8":"+/-","wtCasp8Alleles":1,"adar":"p150null/P195A","p150nullAlleles":1,"obs":17,"exp":22.75},{"casp8":"-/-","wtCasp8Alleles":0,"adar":"P195A/WT","p150nullAlleles":0,"obs":19,"exp":11.375},{"casp8":"-/-","wtCasp8Alleles":0,"adar":"p150null/P195A","p150nullAlleles":1,"obs":0,"exp":11.375}]},
      "encoding":{"x":{"field":"p150nullAlleles","type":"quantitative","scale":{"domain":[-1.1803,1.8033],"nice":false,"zero":false},"axis":null},"y":{"field":"wtCasp8Alleles","type":"quantitative","scale":{"domain":[-1.6275,9.99],"nice":false,"zero":false},"axis":null}},
      "layer":[
       {"mark":{"type":"text","align":"right","baseline":"middle","fontSize":28,"fontWeight":"bold","color":"#231F20"},"encoding":{"text":{"field":"obs","type":"quantitative"}}},
       {"mark":{"type":"text","align":"left","baseline":"middle","fontSize":28,"fontWeight":"bold","color":"#ED1C24","dx":9},"encoding":{"text":{"field":"exp","type":"quantitative","format":"$.3~f"}}}
      ]},
     {"data":{"values":[{"casp8":"+/+","wtCasp8Alleles":2},{"casp8":"+/-","wtCasp8Alleles":1},{"casp8":"-/-","wtCasp8Alleles":0}]},
      "encoding":{"y":{"field":"wtCasp8Alleles","type":"quantitative","axis":null}},
      "layer":[
       {"mark":{"type":"text","align":"left","baseline":"middle","fontSize":28,"fontWeight":"bold","fontStyle":"italic"},"encoding":{"x":{"datum":-0.8484,"axis":null},"text":{"value":"Casp8"}}},
       {"mark":{"type":"text","align":"left","baseline":"middle","fontSize":23,"fontWeight":"bold","fontStyle":"italic","dy":-11},"encoding":{"x":{"datum":-0.4998,"axis":null},"text":{"field":"casp8"}}}
      ]}
   ]}
  ],
  "resolve":{"scale":{"x":"independent","y":"independent"}}}
],"spacing":13,"resolve":{"scale":{"color":"independent"}}},
{"hconcat":[
 {"vconcat":[
  {"width":533,"height":20,
   "layer":[
    {"data":{"values":[{"t":"D"}]},"mark":{"type":"text","align":"center","baseline":"middle","fontSize":44,"fontWeight":"bold"},"encoding":{"x":{"datum":-11.8,"scale":{"domain":[0,53.3],"nice":false,"zero":false},"axis":null},"y":{"datum":-2.0,"scale":{"domain":[0,2],"reverse":true,"nice":false,"zero":false},"axis":null},"text":{"field":"t"}}},
    {"data":{"values":[{"t":"Adar"}]},"mark":{"type":"text","align":"left","baseline":"middle","fontSize":32,"fontWeight":"bold","fontStyle":"italic"},"encoding":{"x":{"datum":18.5,"axis":null},"y":{"datum":-3.9,"axis":null},"text":{"field":"t"}}},
    {"data":{"values":[{"t":"siRNA"}]},"mark":{"type":"text","align":"left","baseline":"middle","fontSize":32,"fontWeight":"bold"},"encoding":{"x":{"datum":26.6,"axis":null},"y":{"datum":-3.9,"axis":null},"text":{"field":"t"}}},
    {"data":{"values":[{"t":"Mlkl"}]},"mark":{"type":"text","align":"left","baseline":"middle","fontSize":33,"fontWeight":"bold","fontStyle":"italic"},"encoding":{"x":{"datum":1.3,"axis":null},"y":{"datum":0.4,"axis":null},"text":{"field":"t"}}},
    {"data":{"values":[{"t":"-/-"}]},"mark":{"type":"text","align":"left","baseline":"middle","fontSize":24,"fontWeight":"bold","fontStyle":"italic","dy":-12},"encoding":{"x":{"datum":7.7,"axis":null},"y":{"datum":0.4,"axis":null},"text":{"field":"t"}}},
    {"data":{"values":[{"t":"::Casp8"}]},"mark":{"type":"text","align":"left","baseline":"middle","fontSize":33,"fontWeight":"bold","fontStyle":"italic"},"encoding":{"x":{"datum":10.2,"axis":null},"y":{"datum":0.4,"axis":null},"text":{"field":"t"}}},
    {"data":{"values":[{"t":"-/-"}]},"mark":{"type":"text","align":"left","baseline":"middle","fontSize":24,"fontWeight":"bold","fontStyle":"italic","dy":-12},"encoding":{"x":{"datum":22.3,"axis":null},"y":{"datum":0.4,"axis":null},"text":{"field":"t"}}},
    {"data":{"values":[{"t":" vs Mlkl"}]},"mark":{"type":"text","align":"left","baseline":"middle","fontSize":33,"fontWeight":"bold","fontStyle":"italic"},"encoding":{"x":{"datum":25.0,"axis":null},"y":{"datum":0.4,"axis":null},"text":{"field":"t"}}},
    {"data":{"values":[{"t":"-/-"}]},"mark":{"type":"text","align":"left","baseline":"middle","fontSize":24,"fontWeight":"bold","fontStyle":"italic","dy":-12},"encoding":{"x":{"datum":36.4,"axis":null},"y":{"datum":0.4,"axis":null},"text":{"field":"t"}}},
    {"data":{"values":[{"t":"::Casp8"}]},"mark":{"type":"text","align":"left","baseline":"middle","fontSize":33,"fontWeight":"bold","fontStyle":"italic"},"encoding":{"x":{"datum":39.0,"axis":null},"y":{"datum":0.4,"axis":null},"text":{"field":"t"}}},
    {"data":{"values":[{"t":"WT"}]},"mark":{"type":"text","align":"left","baseline":"middle","fontSize":24,"fontWeight":"bold","fontStyle":"italic","dy":-12},"encoding":{"x":{"datum":51.1,"axis":null},"y":{"datum":0.4,"axis":null},"text":{"field":"t"}}}
   ]},
  {"width":533,"height":439,
   "layer":[
    {"data":{"name":"volcano"},
     "mark":{"type":"circle","size":85,"opacity":1},
     "encoding":{
      "x":{"field":"lfc","type":"quantitative","scale":{"domain":[-5.5,5.5],"nice":false,"zero":false},"axis":{"values":[-5,-3.75,-2.5,-1.25,0,1.25,2.5,3.75,5],"format":".1f","labelExpr":"datum.value % 2.5 === 0 ? datum.label : ''","grid":true,"gridColor":"#EBEBEB","gridWidth":{"condition":{"test":"datum.value % 2.5 !== 0","value":1.2},"value":2.2},"tickSize":{"condition":{"test":"datum.value % 2.5 !== 0","value":0},"value":5},"tickColor":"#333333","tickWidth":1.5,"domainWidth":2,"labelColor":"#4D4D4D","labelFontSize":22,"labelPadding":4,"title":"Log₂Fold Change","titleFontSize":31,"titleFontWeight":"bold","titlePadding":6}},
      "y":{"field":"p","type":"quantitative","scale":{"domain":[-0.29,6.3],"nice":false,"zero":false},"axis":{"values":[0,1,2,3,4,5,6],"format":"d","labelExpr":"datum.value % 2 === 0 ? datum.label : ''","grid":true,"gridColor":"#EBEBEB","gridWidth":{"condition":{"test":"datum.value % 2 !== 0","value":1.2},"value":2.2},"tickSize":{"condition":{"test":"datum.value % 2 !== 0","value":0},"value":5},"tickColor":"#333333","tickWidth":1.5,"domainWidth":2,"labelColor":"#4D4D4D","labelFontSize":22,"labelPadding":6,"title":"-Log₁₀adjusted p-value","titleFontSize":31,"titleFontWeight":"bold","titlePadding":16}},
      "color":{"field":"sig","type":"nominal","scale":{"domain":["no","yes"],"range":["#000000","#CB2A2E"]},"legend":null},
      "order":{"field":"sig","type":"nominal"}}},
    {"data":{"values":[{}]},"mark":{"type":"rule","strokeDash":[13,7],"strokeWidth":2.5,"color":"#000"},"encoding":{"x":{"datum":-0.585}}},
    {"data":{"values":[{}]},"mark":{"type":"rule","strokeDash":[13,7],"strokeWidth":2.5,"color":"#000"},"encoding":{"x":{"datum":0.585}}},
    {"data":{"values":[{}]},"mark":{"type":"rule","strokeDash":[13,7],"strokeWidth":2.5,"color":"#000"},"encoding":{"y":{"datum":1.301}}},
    {"data":{"name":"volcano"},"transform":[{"filter":"datum.gene != ''"}],
     "mark":{"type":"text","fontSize":24,"dx":3,"baseline":"middle","align":"center","color":"#000"},
     "encoding":{"x":{"field":"lfc","type":"quantitative"},"y":{"field":"p","type":"quantitative"},"text":{"field":"gene"}}}
   ]}
 ],"spacing":23},
 {"width":709,"height":476,
  "layer":[
   {"data":{"values":[
     {"g":"r3t","t":0,"s":100},{"g":"r3t","t":24,"s":97.3},{"g":"r3t","t":25.5,"s":94.6},{"g":"r3t","t":27.5,"s":91.9},{"g":"r3t","t":37.5,"s":89.2},{"g":"r3t","t":38.5,"s":86.5},{"g":"r3t","t":40,"s":83.8},{"g":"r3t","t":52.5,"s":81.1},{"g":"r3t","t":53.5,"s":75.7},{"g":"r3t","t":56.5,"s":73.0},{"g":"r3t","t":63,"s":67.6},{"g":"r3t","t":80.5,"s":64.9},{"g":"r3t","t":84.5,"s":62.2},{"g":"r3t","t":91.5,"s":59.5},{"g":"r3t","t":94,"s":56.8},{"g":"r3t","t":97,"s":54.1},{"g":"r3t","t":112,"s":51.4},{"g":"r3t","t":118,"s":48.6},{"g":"r3t","t":121,"s":45.9},{"g":"r3t","t":128.5,"s":43.2},{"g":"r3t","t":135.5,"s":35.1},{"g":"r3t","t":167,"s":32.4},{"g":"r3t","t":180.5,"s":27.0},{"g":"r3t","t":185,"s":24.3},{"g":"r3t","t":203.5,"s":21.6},{"g":"r3t","t":227,"s":18.9},{"g":"r3t","t":240.5,"s":12.2},{"g":"r3t","t":250,"s":12.2},
     {"g":"tx","t":0,"s":100},{"g":"tx","t":27,"s":98.4},{"g":"tx","t":28,"s":96.7},{"g":"tx","t":29,"s":95.1},{"g":"tx","t":31,"s":93.4},{"g":"tx","t":36.5,"s":91.8},{"g":"tx","t":37,"s":88.5},{"g":"tx","t":38,"s":86.9},{"g":"tx","t":39,"s":85.2},{"g":"tx","t":40,"s":83.6},{"g":"tx","t":41,"s":82.0},{"g":"tx","t":41.5,"s":80.3},{"g":"tx","t":42,"s":77.0},{"g":"tx","t":42.5,"s":73.8},{"g":"tx","t":43,"s":70.5},{"g":"tx","t":44,"s":68.9},{"g":"tx","t":45,"s":67.2},{"g":"tx","t":48,"s":65.6},{"g":"tx","t":49,"s":62.3},{"g":"tx","t":51,"s":60.7},{"g":"tx","t":58,"s":57.4},{"g":"tx","t":58.5,"s":55.7},{"g":"tx","t":62,"s":53.8},{"g":"tx","t":64.5,"s":47.5},{"g":"tx","t":65,"s":44.3},{"g":"tx","t":67,"s":42.6},{"g":"tx","t":86,"s":41.0},{"g":"tx","t":89,"s":38.4},{"g":"tx","t":100,"s":35.5},{"g":"tx","t":101,"s":31.1},{"g":"tx","t":134,"s":27.5},{"g":"tx","t":136,"s":24.7},{"g":"tx","t":204,"s":20.6},{"g":"tx","t":216,"s":16.5},{"g":"tx","t":219,"s":12.4},{"g":"tx","t":250,"s":12.4}]},
    "mark":{"type":"line","interpolate":"step-after","strokeWidth":3},
    "encoding":{
     "x":{"field":"t","type":"quantitative","scale":{"domain":[0,250],"nice":false,"zero":false},"axis":{"values":[0,25,50,75,100,125,150,175,200,225,250],"labelExpr":"datum.value % 50 === 0 ? datum.label : ''","tickSize":{"condition":{"test":"datum.value % 50 !== 0","value":8},"value":13},"tickWidth":3,"domainWidth":3,"labelFontSize":30,"labelFontWeight":"bold","labelPadding":5,"title":"Days","titleFontSize":30,"titleFontWeight":"bold","titlePadding":6}},
     "y":{"field":"s","type":"quantitative","scale":{"domain":[0,100],"nice":false,"zero":false},"axis":{"values":[0,12.5,25,37.5,50,62.5,75,87.5,100],"labelExpr":"datum.value % 25 === 0 ? datum.label : ''","tickSize":{"condition":{"test":"datum.value % 25 !== 0","value":8},"value":12},"tickWidth":3,"domainWidth":3,"labelFontSize":30,"labelFontWeight":"bold","labelPadding":2,"title":"% Survival","titleFontSize":30,"titleFontWeight":"bold","titlePadding":-6}},
     "color":{"field":"g","type":"nominal","scale":{"domain":["r3t","tx"],"range":["#A8A8A8","#111111"]},"legend":null}}},
   {"data":{"values":[{"g":"r3t","t":52.5,"s":83.8},{"g":"r3t","t":63,"s":73.0},{"g":"r3t","t":167,"s":35.1},{"g":"r3t","t":180.5,"s":32.4},{"g":"r3t","t":185,"s":27.0},{"g":"r3t","t":203.5,"s":24.3},{"g":"r3t","t":227,"s":21.6},{"g":"r3t","t":240.5,"s":18.9},{"g":"tx","t":58,"s":60.7},{"g":"tx","t":77,"s":42.6},{"g":"tx","t":111,"s":31.1},{"g":"tx","t":156,"s":24.7},{"g":"tx","t":185,"s":24.7}]},
    "mark":{"type":"tick","orient":"vertical","size":10,"thickness":2.5,"yOffset":-5,"opacity":1},
    "encoding":{"x":{"field":"t","type":"quantitative"},"y":{"field":"s","type":"quantitative"},"color":{"field":"g","type":"nominal","legend":null}}},
   {"data":{"values":[{}]},"mark":{"type":"rule","strokeWidth":2.5,"color":"#000"},"encoding":{"x":{"datum":76.2},"y":{"datum":47.5},"y2":{"datum":55.6}}},
   {"data":{"values":[{"t":"ns"}]},"mark":{"type":"text","align":"left","baseline":"middle","fontSize":36},"encoding":{"x":{"datum":80},"y":{"datum":52.4},"text":{"field":"t"}}},
   {"data":{"values":[{}]},"mark":{"type":"rule","strokeWidth":3.5,"color":"#A8A8A8"},"encoding":{"x":{"datum":112},"x2":{"datum":132.4},"y":{"datum":75.3}}},
   {"data":{"values":[{}]},"mark":{"type":"rule","strokeWidth":3.5,"color":"#111111"},"encoding":{"x":{"datum":112},"x2":{"datum":132.4},"y":{"datum":63.9}}},
   {"data":{"values":[{}]},"mark":{"type":"tick","orient":"vertical","size":10,"thickness":2.5,"yOffset":-5,"opacity":1,"color":"#111111"},"encoding":{"x":{"datum":122},"y":{"datum":75.3}}},
   {"data":{"values":[{}]},"mark":{"type":"tick","orient":"vertical","size":10,"thickness":2.5,"yOffset":-5,"opacity":1,"color":"#111111"},"encoding":{"x":{"datum":122},"y":{"datum":63.9}}},
   {"data":{"values":[{"t":"Ripk3"}]},"mark":{"type":"text","align":"left","baseline":"middle","fontSize":32,"fontStyle":"italic"},"encoding":{"x":{"datum":137.6},"y":{"datum":75.3},"text":{"field":"t"}}},
   {"data":{"values":[{"t":"-/-"}]},"mark":{"type":"text","align":"left","baseline":"middle","fontSize":24,"fontStyle":"italic","dy":-12},"encoding":{"x":{"datum":166.9},"y":{"datum":75.3},"text":{"field":"t"}}},
   {"data":{"values":[{"t":"Trex1"}]},"mark":{"type":"text","align":"left","baseline":"middle","fontSize":32,"fontStyle":"italic"},"encoding":{"x":{"datum":179.4},"y":{"datum":75.3},"text":{"field":"t"}}},
   {"data":{"values":[{"t":"-/-"}]},"mark":{"type":"text","align":"left","baseline":"middle","fontSize":24,"fontStyle":"italic","dy":-12},"encoding":{"x":{"datum":208.5},"y":{"datum":75.3},"text":{"field":"t"}}},
   {"data":{"values":[{"t":"(n=37)"}]},"mark":{"type":"text","align":"left","baseline":"middle","fontSize":32,"fontStyle":"italic"},"encoding":{"x":{"datum":219.6},"y":{"datum":75.3},"text":{"field":"t"}}},
   {"data":{"values":[{"t":"Trex1"}]},"mark":{"type":"text","align":"left","baseline":"middle","fontSize":32,"fontStyle":"italic"},"encoding":{"x":{"datum":138.1},"y":{"datum":63.9},"text":{"field":"t"}}},
   {"data":{"values":[{"t":"-/-"}]},"mark":{"type":"text","align":"left","baseline":"middle","fontSize":24,"fontStyle":"italic","dy":-12},"encoding":{"x":{"datum":167},"y":{"datum":63.9},"text":{"field":"t"}}},
   {"data":{"values":[{"t":"(n=61)"}]},"mark":{"type":"text","align":"left","baseline":"middle","fontSize":32,"fontStyle":"italic"},"encoding":{"x":{"datum":178.4},"y":{"datum":63.9},"text":{"field":"t"}}},
   {"data":{"values":[{"t":"Ripk3 :: Trex1"}]},"mark":{"type":"text","align":"center","baseline":"middle","fontSize":30,"fontWeight":"bold","fontStyle":"italic"},"encoding":{"x":{"datum":128},"y":{"datum":103.2},"text":{"field":"t"}}},
   {"data":{"values":[{"t":"E"}]},"mark":{"type":"text","align":"center","baseline":"middle","fontSize":44,"fontWeight":"bold"},"encoding":{"x":{"datum":-15.9},"y":{"datum":114.8},"text":{"field":"t"}}}
  ]}
],"spacing":42,"resolve":{"scale":{"color":"independent"}}}
]
}
